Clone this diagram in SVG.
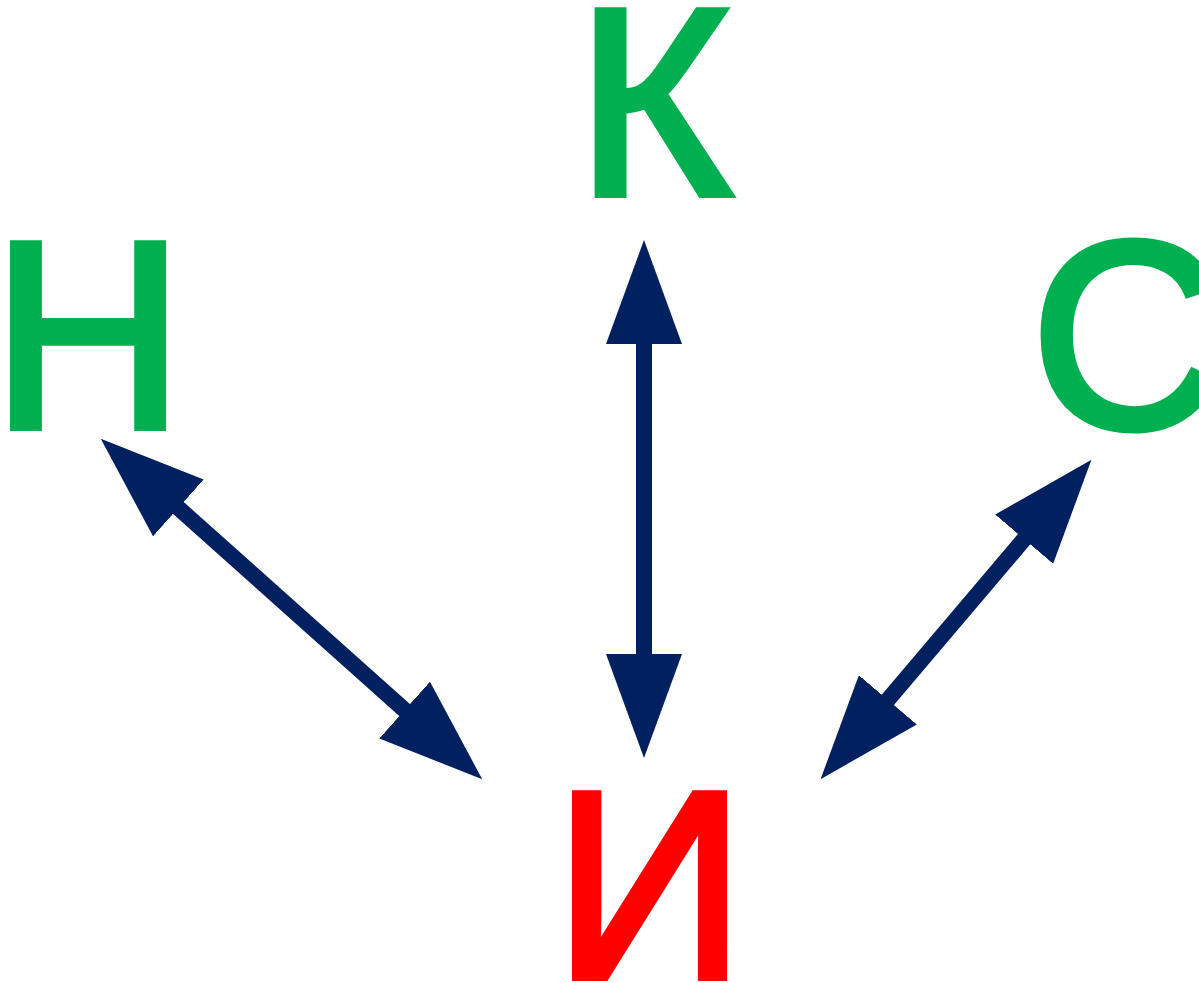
<svg xmlns="http://www.w3.org/2000/svg" width="1199" height="983" viewBox="0 0 1199 983">
<style>
.lbl{font-family:"Liberation Sans",Arial,sans-serif;font-size:267px;stroke-width:7;stroke-linejoin:miter;}
.g{fill:#00B050;stroke:#00B050;}
.r{fill:#FF0000;stroke:#FF0000;}
.conn{stroke:#002060;stroke-width:16;fill:none;marker-start:url(#ah);marker-end:url(#ah);}
</style>
<defs>
<marker id="ah" viewBox="0 0 104 76" refX="1" refY="38" markerWidth="104" markerHeight="76" markerUnits="userSpaceOnUse" orient="auto-start-reverse">
<path d="M0,0 L104,38 L0,76 Z" fill="#002060"/>
</marker>
</defs>
<rect width="1199" height="983" fill="#FFFFFF"/>
<g id="connectors">
<line class="conn" x1="644" y1="343" x2="644" y2="655"/>
<line class="conn" x1="177.6" y1="507.3" x2="405.4" y2="710.7"/>
<line class="conn" x1="1024.8" y1="538.4" x2="887.2" y2="700.6"/>
</g>
<g id="node-K"><text class="lbl g" x="654" y="194.5" text-anchor="middle">К</text></g>
<g id="node-N"><text class="lbl g" x="88" y="427.5" text-anchor="middle">Н</text></g>
<g id="node-S"><text class="lbl g" x="1030.5" y="427.5">С</text></g>
<g id="node-I"><text class="lbl r" x="649.5" y="977.5" text-anchor="middle">И</text></g>
</svg>
